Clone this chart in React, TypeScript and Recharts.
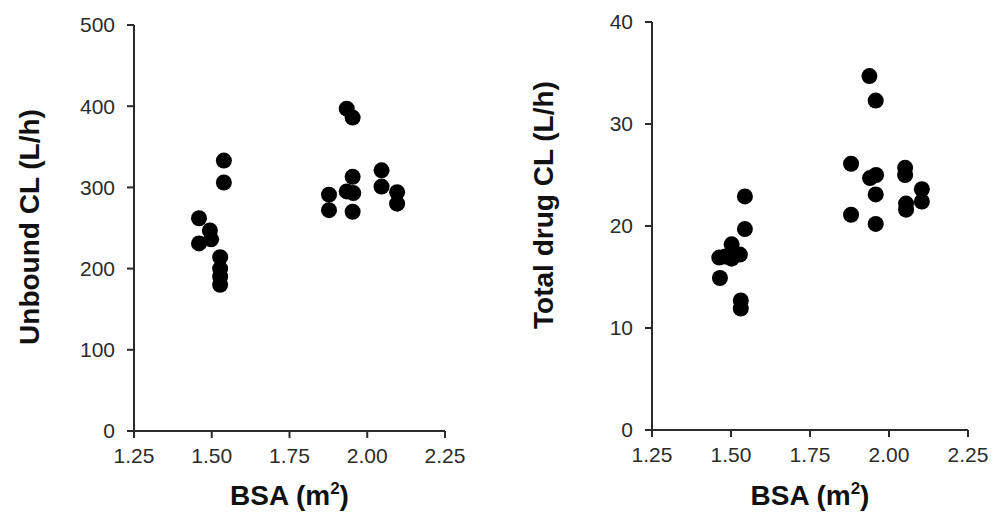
import { ScatterChart, Scatter, XAxis, YAxis } from "recharts";

const bsaTicks = [1.25, 1.5, 1.75, 2.0, 2.25];
const unboundTicks = [0, 100, 200, 300, 400, 500];
const totalTicks = [0, 10, 20, 30, 40];

// Unbound CL (L/h) vs BSA
const unboundBsa = [
  1.459, 1.494, 1.459, 1.498, 1.539, 1.539, 1.527, 1.527, 1.527, 1.527,
  1.934, 1.953, 1.953, 1.934, 1.955, 1.877, 1.877, 1.953, 2.046, 2.046, 2.096, 2.096,
];
const unboundCl = [
  262, 247, 231, 236, 333, 306, 214, 200, 190, 180,
  397, 386, 313, 295, 293, 291, 272, 270, 321, 301, 294, 280,
];

// Total drug CL (L/h) vs BSA
const totalBsa = [
  1.544, 1.544, 1.502, 1.463, 1.502, 1.528, 1.482, 1.465, 1.531, 1.531,
  1.938, 1.958, 1.88, 1.94, 1.959, 1.958, 1.88, 1.958, 2.051, 2.051, 2.054, 2.054, 2.104, 2.104,
];
const totalCl = [
  22.9, 19.7, 18.2, 16.9, 16.8, 17.2, 17.0, 14.9, 12.7, 11.9,
  34.7, 32.3, 26.1, 24.7, 25.0, 23.1, 21.1, 20.2, 25.7, 25.0, 22.2, 21.6, 23.6, 22.4,
];

const unboundData = unboundBsa.map((x, i) => ({ x, y: unboundCl[i] }));
const totalData = totalBsa.map((x, i) => ({ x, y: totalCl[i] }));

const font = "'Liberation Sans', Arial, sans-serif";
const axisColor = "#2b2b2b";
const tickStyle = { fill: "#2b2b2b", fontSize: 21, fontFamily: font };

const Dot = (props: any) => <circle cx={props.cx} cy={props.cy} r={8} fill="#000" />;

const VTitle = ({ text, x, y }: { text: string; x: number; y: number }) => (
  <text
    x={x}
    y={y}
    transform={`rotate(-90 ${x} ${y})`}
    textAnchor="middle"
    dominantBaseline="central"
    fontFamily={font}
    fontWeight="bold"
    fontSize={28}
    fill="#111"
  >
    {text}
  </text>
);

const BsaTitle = ({ x, y }: { x: number; y: number }) => (
  <text x={x} y={y} textAnchor="middle" fontFamily={font} fontWeight="bold" fontSize={28} fill="#111">
    BSA (m
    <tspan fontSize={17} dy={-11}>2</tspan>
    <tspan dy={11}>)</tspan>
  </text>
);

interface PanelProps {
  data: { x: number; y: number }[];
  yTicks: number[];
  yMax: number;
  title: string;
  titleX: number;
  titleY: number;
  margin: { top: number; right: number; bottom: number; left: number };
}

function Panel({ data, yTicks, yMax, title, titleX, titleY, margin }: PanelProps) {
  const plotCenter = margin.left + 60 + (497 - margin.left - 60 - margin.right) / 2;
  return (
    <ScatterChart width={497} height={518} margin={margin}>
      <XAxis
        type="number"
        dataKey="x"
        domain={[1.25, 2.25]}
        ticks={bsaTicks}
        tickFormatter={(v: number) => v.toFixed(2)}
        tick={tickStyle}
        axisLine={{ stroke: axisColor, strokeWidth: 2 }}
        tickLine={{ stroke: axisColor, strokeWidth: 2 }}
        tickSize={7}
        tickMargin={10}
        height={40}
        allowDataOverflow
        label={() => <BsaTitle x={plotCenter} y={505} />}
      />
      <YAxis
        type="number"
        dataKey="y"
        domain={[0, yMax]}
        ticks={yTicks}
        tick={tickStyle}
        axisLine={{ stroke: axisColor, strokeWidth: 2 }}
        tickLine={{ stroke: axisColor, strokeWidth: 2 }}
        tickSize={7}
        tickMargin={12}
        width={60}
        label={() => <VTitle text={title} x={titleX} y={titleY} />}
      />
      <Scatter data={data} fill="#000" shape={Dot} isAnimationActive={false} />
    </ScatterChart>
  );
}

export default function App() {
  return (
    <div
      style={{
        position: "absolute",
        left: 0,
        top: 0,
        width: 994,
        height: 518,
        background: "#fff",
        display: "flex",
      }}
    >
      <Panel
        data={unboundData}
        yTicks={unboundTicks}
        yMax={500}
        title="Unbound CL (L/h)"
        titleX={29}
        titleY={227}
        margin={{ top: 25, right: 52, bottom: 47, left: 74 }}
      />
      <Panel
        data={totalData}
        yTicks={totalTicks}
        yMax={40}
        title="Total drug CL (L/h)"
        titleX={46}
        titleY={205}
        margin={{ top: 22, right: 26, bottom: 48, left: 95 }}
      />
    </div>
  );
}
